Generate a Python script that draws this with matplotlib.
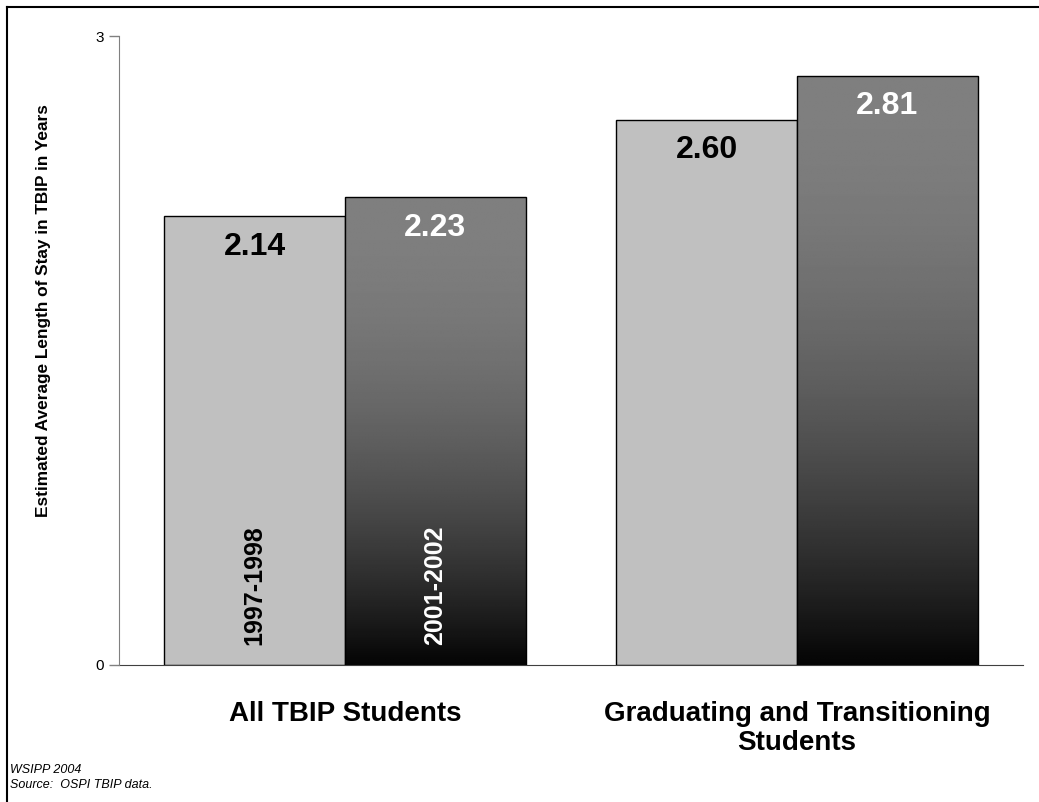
import numpy as np
import matplotlib
matplotlib.use('Agg')
import matplotlib.pyplot as plt
from matplotlib.lines import Line2D

plt.rcParams['font.family'] = ['Liberation Sans', 'DejaVu Sans']

# данные
categories = ['All TBIP Students', 'Graduating and Transitioning\nStudents']
series_names = ['1997-1998', '2001-2002']
values_9798 = [2.14, 2.60]
values_0102 = [2.23, 2.81]
ytick_vals = [0, 3]

W, H = 1039, 802
fig = plt.figure(figsize=(W / 100, H / 100), dpi=100)
ax = fig.add_axes([119 / W, (H - 665) / H, 904 / W, 629 / H])

x = np.arange(len(categories))
bw = 0.4

bars1 = ax.bar(x - bw / 2, values_9798, bw, color='#c0c0c0', edgecolor='black', linewidth=1, zorder=2)
bars2 = ax.bar(x + bw / 2, values_0102, bw, color='none', edgecolor='black', linewidth=1, zorder=3)

# градиент: серый сверху -> черный снизу
t = np.linspace(0, 1, 256).reshape(-1, 1)  # 0 = низ, 1 = верх
grad = 0.02 + 0.48 * (1 - (1 - t) ** 2)
for b in bars2:
    x0, y0 = b.get_x(), b.get_y()
    im = ax.imshow(grad, cmap='gray', vmin=0, vmax=1, origin='lower', aspect='auto',
                   extent=[x0, x0 + b.get_width(), y0, y0 + b.get_height()], zorder=2,
                   interpolation='bilinear')
    im.set_clip_path(b)

# подписи значений
for b, v in zip(bars1, values_9798):
    ax.text(b.get_x() + b.get_width() / 2, v - 0.145, f'{v:.2f}', ha='center', va='center',
            fontsize=23, fontweight='bold', color='black', zorder=5)
for b, v in zip(bars2, values_0102):
    ax.text(b.get_x() + b.get_width() / 2, v - 0.145, f'{v:.2f}', ha='center', va='center',
            fontsize=23, fontweight='bold', color='white', zorder=5)

# подписи серий внутри первой группы
ax.text(bars1[0].get_x() + bw / 2, 0.095, series_names[0], rotation=90, ha='center', va='bottom',
        fontsize=18, fontweight='bold', color='black', zorder=5)
ax.text(bars2[0].get_x() + bw / 2, 0.095, series_names[1], rotation=90, ha='center', va='bottom',
        fontsize=18, fontweight='bold', color='white', zorder=5)

ax.set_xlim(-0.5, len(categories) - 0.5)
ax.set_ylim(0, 3)
ax.set_yticks(ytick_vals)
ax.set_yticklabels([str(v) for v in ytick_vals], fontsize=11)
ax.tick_params(axis='y', length=7, color='#808080', width=1, pad=4)
ax.set_xticks(x)
ax.set_xticklabels(categories, fontsize=20, fontweight='bold', linespacing=1.15)
ax.tick_params(axis='x', length=0, pad=26)

for s in ['top', 'right']:
    ax.spines[s].set_visible(False)
ax.spines['left'].set_color('#808080')
ax.spines['bottom'].set_color('#404040')
ax.spines['left'].set_zorder(4)

ax.set_ylabel('Estimated Average Length of Stay in TBIP in Years', fontsize=12.4, fontweight='bold')
ax.yaxis.set_label_coords(-68 / 904, 0.564)

fig.text(10 / W, 1 - 770 / H, 'WSIPP 2004', fontsize=9, style='italic', va='center')
fig.text(10 / W, 1 - 785 / H, 'Source:  OSPI TBIP data.', fontsize=9, style='italic', va='center')

# рамка слева и сверху
fig.add_artist(Line2D([7 / W, 7 / W], [0, 1 - 7 / H], color='black', linewidth=1.5))
fig.add_artist(Line2D([7 / W, 1], [1 - 7 / H, 1 - 7 / H], color='black', linewidth=1.5))

fig.savefig('out.png', dpi=100)
